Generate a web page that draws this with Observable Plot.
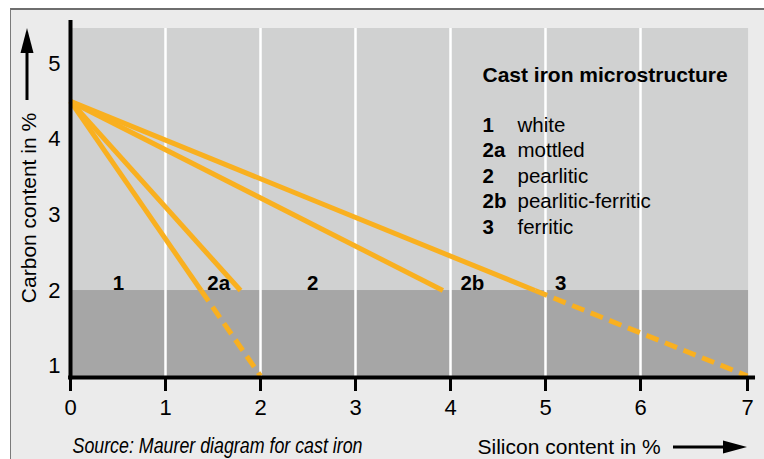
<!DOCTYPE html>
<html>
<head>
<meta charset="utf-8">
<script src="https://cdn.jsdelivr.net/npm/d3@7"></script>
<script src="https://cdn.jsdelivr.net/npm/@observablehq/plot@0.6"></script>
<style>
  html, body { margin: 0; padding: 0; background: #ffffff; overflow: hidden; }
  #wrap { position: relative; width: 764px; height: 459px; }
  #frame { position: absolute; left: 10px; top: 8px; width: 800px; height: 500px;
           border-top: 2px solid #6e6e6e; border-left: 1px solid #7a7a7a; background: #ebebeb; }
  #chart { position: absolute; left: 0; top: 0; }
</style>
</head>
<body>
<div id="wrap"><div id="frame"></div><div id="chart"></div></div>
<script>
// ---- data ----
const xTicks = [0, 1, 2, 3, 4, 5, 6, 7];
const yTicks = [1, 2, 3, 4, 5];
const gridSi = [1, 2, 3, 4, 5, 6];

// boundary lines from the eutectic point (Si 0 %, C 4.5 %)
const boundaryIds = ["1|2a", "2a|2", "2|2b", "2b|3"];
const startSi = [0, 0, 0, 0];
const startC = [4.5, 4.5, 4.5, 4.5];
const solidEndSi = [1.375, 1.79, 3.92, 4.89];
const solidEndC = [2, 2, 2, 2];
const dashedEndSi = [2, null, null, 7];
const dashedEndC = [0.87, null, null, 0.87];

const zoneLabels = ["1", "2a", "2", "2b", "3"];
const zoneSi = [0.505, 1.56, 2.55, 4.23, 5.16];

const legendKeys = ["1", "2a", "2", "2b", "3"];
const legendNames = ["white", "mottled", "pearlitic", "pearlitic-ferritic", "ferritic"];
const legendTitle = "Cast iron microstructure";

const xLabel = "Silicon content in %";
const yLabel = "Carbon content in %";
const sourceText = "Source: Maurer diagram for cast iron";

// ---- derived tables ----
const solid = boundaryIds.flatMap((id, i) => [
  {id, si: startSi[i], c: startC[i]},
  {id, si: solidEndSi[i], c: solidEndC[i]}
]);
const dashed = boundaryIds.flatMap((id, i) => dashedEndSi[i] == null ? [] : [
  {id, si: solidEndSi[i], c: solidEndC[i]},
  {id, si: dashedEndSi[i], c: dashedEndC[i]}
]);

const orange = "#f9b020";
const font = "'Liberation Sans', Arial, Helvetica, sans-serif";
const yMin = 0.85, yMax = 5.57, areaTop = 5.464;

const legendMarks = [
  Plot.text([legendTitle], {frameAnchor: "top-left", dx: 412, dy: 61, text: d => d,
    textAnchor: "start", lineAnchor: "bottom", fontWeight: "bold", fontSize: 21, fill: "#000"})
];
legendKeys.forEach((k, i) => {
  legendMarks.push(Plot.text([k], {frameAnchor: "top-left", dx: 412, dy: 111 + i * 25.5, text: d => d,
    textAnchor: "start", lineAnchor: "bottom", fontWeight: "bold", fontSize: 20.5, fill: "#000"}));
  legendMarks.push(Plot.text([legendNames[i]], {frameAnchor: "top-left", dx: 447, dy: 111 + i * 25.5, text: d => d,
    textAnchor: "start", lineAnchor: "bottom", fontSize: 20.5, fill: "#000"}));
});

const chart = Plot.plot({
  width: 764,
  height: 459,
  marginLeft: 70,
  marginRight: 17,
  marginTop: 20,
  marginBottom: 82,
  style: {fontFamily: font, background: "transparent", color: "#000", overflow: "visible"},
  x: {type: "linear", domain: [0, 6, 7], range: [70, 640, 747]},
  y: {type: "linear", domain: [yMin, yMax]},
  marks: [
    Plot.rect([{x1: 0, x2: 7.01, y1: 2, y2: areaTop}], {x1: "x1", x2: "x2", y1: "y1", y2: "y2", fill: "#d0d1d1"}),
    Plot.rect([{x1: 0, x2: 7.01, y1: yMin, y2: 2}], {x1: "x1", x2: "x2", y1: "y1", y2: "y2", fill: "#a6a6a6"}),
    Plot.ruleX(gridSi, {y1: yMin, y2: areaTop, stroke: "#ffffff", strokeWidth: 2.5}),
    Plot.line(solid, {x: "si", y: "c", z: "id", stroke: orange, strokeWidth: 5, strokeLinecap: "butt"}),
    Plot.line(dashed, {x: "si", y: "c", z: "id", stroke: orange, strokeWidth: 5, strokeDasharray: "13,7", strokeLinecap: "butt"}),
    Plot.text(zoneLabels, {x: (d, i) => zoneSi[i], y: 2, text: d => d, fontWeight: "bold", fontSize: 20.5,
      lineAnchor: "bottom", dy: -1, fill: "#000"}),
    ...legendMarks,
    Plot.ruleX([0], {y1: yMin - 0.03, y2: yMax, stroke: "#000", strokeWidth: 4}),
    Plot.ruleY([yMin], {x1: -0.02, x2: 7.075, stroke: "#000", strokeWidth: 4}),
    Plot.axisX(xTicks, {anchor: "bottom", tickSize: 14, tickPadding: 7.5, strokeWidth: 3, fontSize: 22, label: null, tickFormat: d => String(d)}),
    Plot.axisY(yTicks, {anchor: "left", tickSize: 0, tickPadding: 10, fontSize: 22, label: null, tickFormat: d => String(d)}),
    Plot.text([yLabel], {frameAnchor: "left", dx: -35, dy: 9, rotate: -90, text: d => d,
      textAnchor: "middle", lineAnchor: "bottom", fontSize: 21, fill: "#000"}),
    Plot.text([xLabel], {frameAnchor: "bottom-left", dx: 407, dy: 76, text: d => d,
      textAnchor: "start", lineAnchor: "bottom", fontSize: 21, fill: "#000"}),
    Plot.text([sourceText], {frameAnchor: "bottom-left", dx: 2, dy: 75, text: d => d,
      textAnchor: "start", lineAnchor: "bottom", fontSize: 22, fontStyle: "italic", fill: "#000"})
  ]
});

// condensed italic source line
d3.select(chart).selectAll("text").filter(function () { return this.textContent === sourceText; })
  .attr("textLength", 290).attr("lengthAdjust", "spacingAndGlyphs");

// axis-title arrows (decoration), placed relative to the frame
const svg = d3.select(chart);
const g = svg.append("g").attr("fill", "#000").attr("stroke", "#000");
// y arrow
g.append("line").attr("x1", 27).attr("x2", 27).attr("y1", 100).attr("y2", 50).attr("stroke-width", 3);
g.append("path").attr("stroke", "none").attr("d", "M27,28L20.5,53L33.5,53Z");
// x arrow
g.append("line").attr("x1", 673).attr("x2", 726).attr("y1", 447).attr("y2", 447).attr("stroke-width", 3);
g.append("path").attr("stroke", "none").attr("d", "M747,447L723,440.5L723,453.5Z");

document.getElementById("chart").appendChild(chart);
</script>
</body>
</html>
